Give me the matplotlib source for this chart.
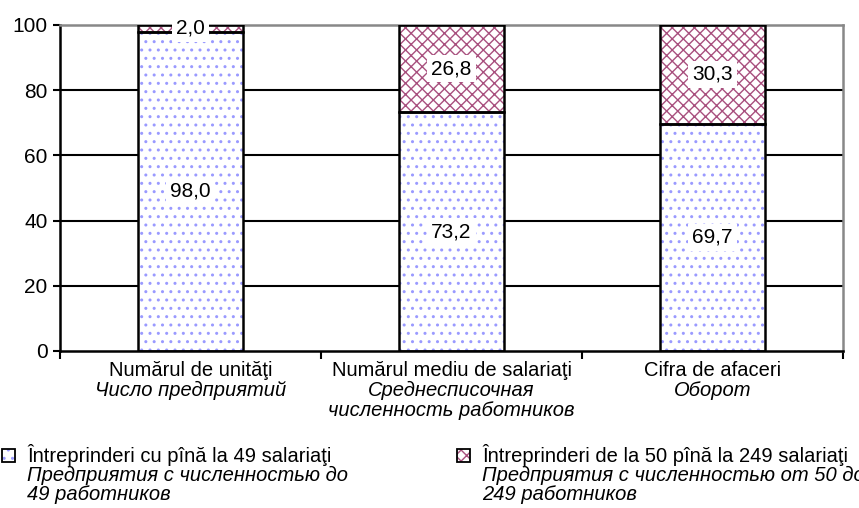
import matplotlib
matplotlib.use('Agg')
import matplotlib.pyplot as plt
from matplotlib.patches import Rectangle
from matplotlib.transforms import blended_transform_factory

plt.rcParams['font.family'] = ['Liberation Sans', 'DejaVu Sans']
plt.rcParams['hatch.linewidth'] = 1.0

cat_ro = ['Numărul de unităţi', 'Numărul mediu de salariaţi', 'Cifra de afaceri']
cat_ru = [['Число предприятий'],
          ['Среднесписочная', 'численность работников'],
          ['Оборот']]
small = [98.0, 73.2, 69.7]
medium = [2.0, 26.8, 30.3]
leg_ro = ['Întreprinderi cu pînă la 49 salariaţi',
          'Întreprinderi de la 50 pînă la 249 salariaţi']
leg_ru = [['Предприятия с численностью до', '49 работников'],
          ['Предприятия с численностью от 50 до', '249 работников']]

blue = '#9a9aff'
pink = '#a8507e'
fs = 14.5

fig = plt.figure(figsize=(8.59, 5.08), dpi=100)
ax = fig.add_axes([60/859, 157/508, 783/859, 326/508])

x = range(len(cat_ro))
w = 0.4
# fills with hatch, then black outline on top
ax.bar(x, small, w, color='white', hatch='..', edgecolor=blue, lw=0, zorder=2)
ax.bar(x, medium, w, bottom=small, color='white', hatch='xxx', edgecolor=pink, lw=0, zorder=2)
ax.bar(x, small, w, fill=False, edgecolor='black', lw=1.8, zorder=3)
ax.bar(x, medium, w, bottom=small, fill=False, edgecolor='black', lw=1.8, zorder=3)

for i in x:
    for val, base in [(small[i], 0), (medium[i], small[i])]:
        ax.text(i, base + val/2, ('%.1f' % val).replace('.', ','), ha='center', va='center',
                fontsize=15, zorder=4,
                bbox=dict(facecolor='white', edgecolor='none', pad=3))

for yv in [20, 40, 60, 80]:
    ax.axhline(yv, color='black', lw=1.5, zorder=1)

ax.set_xlim(-0.5, 2.5)
ax.set_ylim(0, 100)
ax.set_yticks([0, 20, 40, 60, 80, 100])
ax.tick_params(axis='y', labelsize=15, length=5, width=1.5, direction='out', pad=4)
ax.set_xticks([-0.5, 0.5, 1.5, 2.5])
ax.set_xticklabels([])
ax.tick_params(axis='x', length=6, width=1.5, direction='out')

ax.spines['left'].set_linewidth(1.8)
ax.spines['bottom'].set_linewidth(1.8)
ax.spines['top'].set_color('#888888')
ax.spines['right'].set_color('#888888')
ax.spines['top'].set_linewidth(1.8)
ax.spines['right'].set_linewidth(1.8)

trans = blended_transform_factory(ax.transData, fig.transFigure)
for i in x:
    ax.text(i, 1 - 370/508, cat_ro[i], transform=trans, ha='center', va='center', fontsize=fs)
    for j, line in enumerate(cat_ru[i]):
        ax.text(i, 1 - (390 + 20*j)/508, line, transform=trans, ha='center', va='center',
                fontsize=fs, style='italic')

# legend drawn by hand (mixed upright / italic lines)
leg_x = [2, 457]
leg_hatch = [('..', blue), ('xxx', pink)]
for k in range(2):
    h, c = leg_hatch[k]
    fig.patches.append(Rectangle((leg_x[k]/859, 1 - 462/508), 13/859, 13/508,
                                 transform=fig.transFigure, facecolor='white',
                                 hatch=h, edgecolor=c, lw=0))
    fig.patches.append(Rectangle((leg_x[k]/859, 1 - 462/508), 13/859, 13/508,
                                 transform=fig.transFigure, fill=False,
                                 edgecolor='black', lw=1.3))
    tx = (leg_x[k] + 25)/859
    fig.text(tx, 1 - 455/508, leg_ro[k], ha='left', va='center', fontsize=fs)
    for j, line in enumerate(leg_ru[k]):
        fig.text(tx, 1 - (475 + 20*j)/508, line, ha='left', va='center',
                 fontsize=fs, style='italic')

fig.savefig('out.png', dpi=100)
